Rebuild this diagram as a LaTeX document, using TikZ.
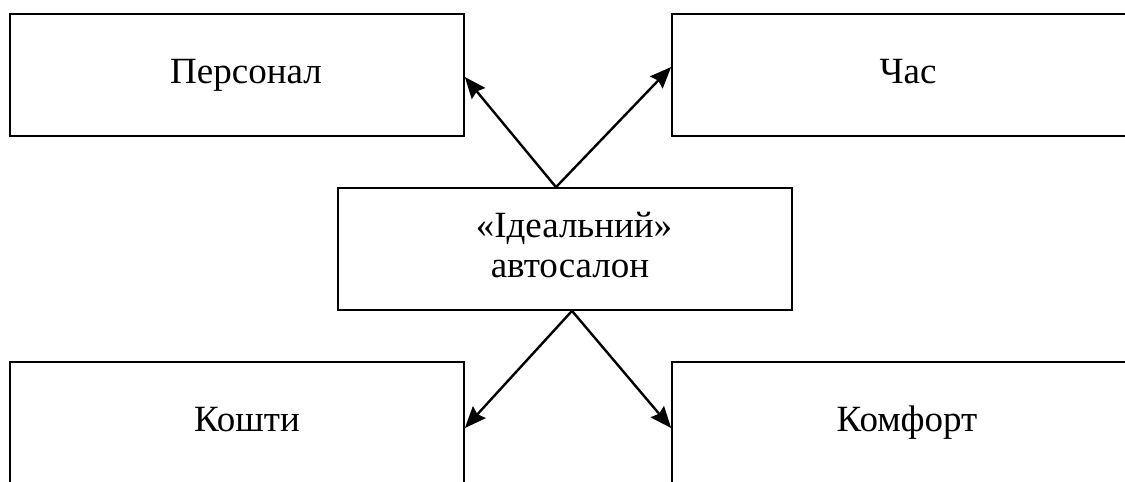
\documentclass[tikz,border=0pt]{standalone}
\usepackage{fontspec}
\setmainfont{Liberation Serif}
\usepackage{tikz}
\usetikzlibrary{arrows.meta}

\tikzset{
  box/.style={draw, line width=1.3pt, minimum width=340.5pt, minimum height=91.5pt, inner sep=0pt},
  lbl/.style={anchor=base, inner sep=0pt, align=center, font=\fontsize{27.75pt}{30pt}\selectfont},
  arr/.style={line width=1.8pt, -{Stealth[length=16pt,width=13pt,inset=2pt]}}
}

\begin{document}
\begin{tikzpicture}[x=0.75pt,y=0.75pt,yscale=-1,xscale=1]
\clip (0,0) rectangle (1125,482);

%Boxes
\node[box] (ideal) at (565,249) {};
\node[box] (pers) at (237,75) {};
\node[box] (chas) at (899,75) {};
\node[box] (koshty) at (237,423) {};
\node[box] (komfort) at (899,423) {};

% Text Node
\node[lbl] (tpers) at ([shift={(9,8)}]pers.center) {Персонал};
% Text Node
\node[lbl] (tchas) at ([shift={(9,8)}]chas.center) {Час};
% Text Node
\node[lbl] (tkoshty) at ([shift={(10,8)}]koshty.center) {Кошти};
% Text Node
\node[lbl] (tkomfort) at ([shift={(8,8)}]komfort.center) {Комфорт};
% Text Node
\node[lbl] (tideal) at ([shift={(9,-12)}]ideal.center) {«Ідеальний»};
% Text Node
\node[lbl] (tavto) at ([shift={(5,28)}]ideal.center) {автосалон};

%Arrows
\draw[arr] ([xshift=-6.75pt]ideal.north) -- ([yshift=1.5pt]pers.east);
\draw[arr] ([xshift=-6.75pt]ideal.north) -- ([yshift=-6pt]chas.west);
\draw[arr] ([xshift=5.25pt]ideal.south) -- ([yshift=3.75pt]koshty.east);
\draw[arr] ([xshift=5.25pt]ideal.south) -- ([yshift=3.75pt]komfort.west);

\end{tikzpicture}
\end{document}
